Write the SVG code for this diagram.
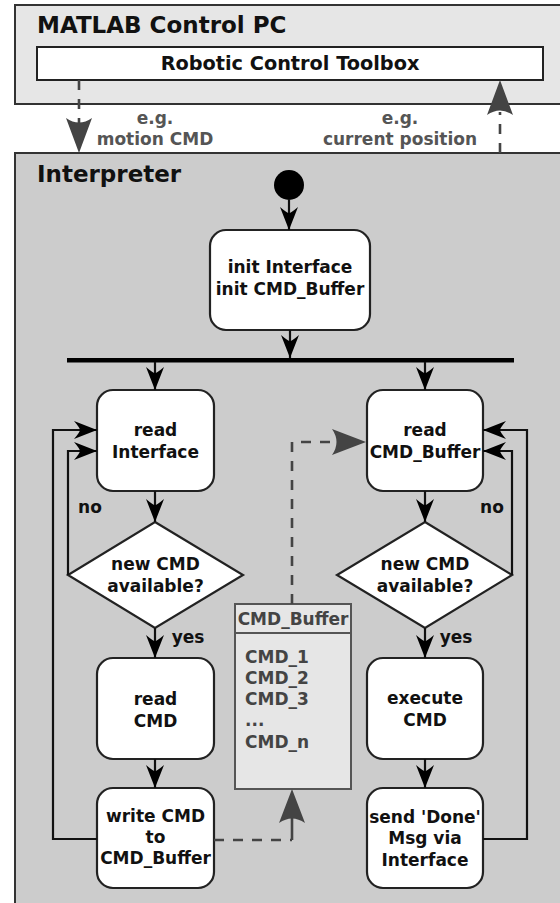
<svg xmlns="http://www.w3.org/2000/svg" width="560" height="903" viewBox="0 0 560 903">
  <style>
    text { font-family: "DejaVu Sans", "Liberation Sans", sans-serif; font-weight: bold; }
    .title { font-size: 23px; fill: #111; }
    .tool { font-size: 19.3px; fill: #111; text-anchor: middle; }
    .lbl { font-size: 17px; fill: #555; text-anchor: middle; }
    .node text, .ntxt { font-size: 17px; fill: #111; text-anchor: middle; }
    .act { fill: #fff; stroke: #222; stroke-width: 2.2; }
    .flow { fill: none; stroke: #111; stroke-width: 2.2; }
    .dash { fill: none; stroke: #444; stroke-width: 2.6; stroke-dasharray: 10 9; }
    .gl { fill: none; stroke: #444; stroke-width: 2.6; }
    .buf text { font-size: 17px; fill: #444; }
  </style>
  <defs>
    <marker id="ah" viewBox="-24 -10 26 20" refX="0" refY="0" markerWidth="26" markerHeight="20" markerUnits="userSpaceOnUse" orient="auto">
      <path d="M0,0 L-23,-9 Q-17,-2 -17,0 Q-17,2 -23,9 Z" fill="#000"/>
    </marker>
  </defs>

  <!-- host PC -->
  <g id="matlab">
    <rect x="15" y="5" width="560" height="99" fill="#e6e6e6" stroke="#333" stroke-width="2"/>
    <text class="title" x="37" y="33">MATLAB Control PC</text>
  </g>
  <g id="toolbox">
    <rect x="37" y="47" width="506" height="33" fill="#fff" stroke="#222" stroke-width="2"/>
    <text class="tool" x="290" y="70">Robotic Control Toolbox</text>
  </g>

  <!-- controller -->
  <g id="interpreter">
    <rect x="15" y="153" width="560" height="770" fill="#cccccc" stroke="#333" stroke-width="2"/>
    <text class="title" x="37" y="182">Interpreter</text>
  </g>

  <g id="labels">
    <text class="lbl" x="155" y="124">e.g.</text>
    <text class="lbl" x="155" y="145">motion CMD</text>
    <text class="lbl" x="400" y="124">e.g.</text>
    <text class="lbl" x="400" y="145">current position</text>
    <text class="ntxt" x="90" y="513">no</text>
    <text class="ntxt" x="492" y="513">no</text>
    <text class="ntxt" x="188" y="643">yes</text>
    <text class="ntxt" x="456" y="643">yes</text>
  </g>

  <g id="start">
    <circle cx="289" cy="185" r="15" fill="#000"/>
  </g>

  <g id="init" class="node">
    <rect class="act" x="210" y="230" width="160" height="100" rx="16"/>
    <text x="290" y="273">init Interface</text>
    <text x="290" y="295">init CMD_Buffer</text>
  </g>

  <g id="fork">
    <rect x="67" y="358" width="447" height="4.5" fill="#000"/>
  </g>

  <g id="readInterface" class="node">
    <rect class="act" x="97" y="390" width="117" height="101" rx="16"/>
    <text x="155.5" y="436">read</text>
    <text x="155.5" y="458">Interface</text>
  </g>
  <g id="checkInterface" class="node">
    <polygon class="act" points="155,522 243,575 155,628 68,575"/>
    <text x="155.5" y="570">new CMD</text>
    <text x="155.5" y="592">available?</text>
  </g>
  <g id="readCmd" class="node">
    <rect class="act" x="97" y="658" width="117" height="101" rx="16"/>
    <text x="155.5" y="705">read</text>
    <text x="155.5" y="727">CMD</text>
  </g>
  <g id="writeCmd" class="node">
    <rect class="act" x="97" y="788" width="117" height="100" rx="16"/>
    <text x="155.5" y="822">write CMD</text>
    <text x="155.5" y="843">to</text>
    <text x="155.5" y="864">CMD_Buffer</text>
  </g>

  <g id="readBuffer" class="node">
    <rect class="act" x="367" y="390" width="116" height="101" rx="16"/>
    <text x="425" y="436">read</text>
    <text x="425" y="458">CMD_Buffer</text>
  </g>
  <g id="checkBuffer" class="node">
    <polygon class="act" points="425,522 512,575 425,628 337,575"/>
    <text x="425" y="570">new CMD</text>
    <text x="425" y="592">available?</text>
  </g>
  <g id="execute" class="node">
    <rect class="act" x="367" y="658" width="116" height="101" rx="16"/>
    <text x="425" y="704">execute</text>
    <text x="425" y="726">CMD</text>
  </g>
  <g id="sendDone" class="node">
    <rect class="act" x="367" y="788" width="116" height="100" rx="16"/>
    <text x="425" y="823">send 'Done'</text>
    <text x="425" y="844">Msg via</text>
    <text x="425" y="866">Interface</text>
  </g>

  <g id="cmdBuffer" class="buf">
    <rect x="235" y="604" width="116" height="185" fill="#e6e6e6" stroke="#555" stroke-width="2"/>
    <line x1="235" y1="633" x2="351" y2="633" stroke="#555" stroke-width="2"/>
    <text x="293" y="625" text-anchor="middle">CMD_Buffer</text>
    <text x="245" y="663">CMD_1</text>
    <text x="245" y="684">CMD_2</text>
    <text x="245" y="705">CMD_3</text>
    <text x="245" y="726">...</text>
    <text x="245" y="748">CMD_n</text>
  </g>

  <g id="connectors">
    <!-- control flow -->
    <line class="flow" x1="289" y1="200" x2="289" y2="230" marker-end="url(#ah)"/>
    <line class="flow" x1="290" y1="330" x2="290" y2="358" marker-end="url(#ah)"/>
    <line class="flow" x1="155" y1="362" x2="155" y2="390" marker-end="url(#ah)"/>
    <line class="flow" x1="425" y1="362" x2="425" y2="390" marker-end="url(#ah)"/>
    <line class="flow" x1="155" y1="491" x2="155" y2="522" marker-end="url(#ah)"/>
    <line class="flow" x1="425" y1="491" x2="425" y2="522" marker-end="url(#ah)"/>
    <line class="flow" x1="155" y1="628" x2="155" y2="658" marker-end="url(#ah)"/>
    <line class="flow" x1="425" y1="628" x2="425" y2="658" marker-end="url(#ah)"/>
    <line class="flow" x1="155" y1="759" x2="155" y2="788" marker-end="url(#ah)"/>
    <line class="flow" x1="425" y1="759" x2="425" y2="788" marker-end="url(#ah)"/>
    <!-- "no" loops -->
    <polyline class="flow" points="68,575 68,451 97,451" marker-end="url(#ah)"/>
    <polyline class="flow" points="512,575 512,451 483,451" marker-end="url(#ah)"/>
    <!-- return loops -->
    <polyline class="flow" points="97,839 53,839 53,430 97,430" marker-end="url(#ah)"/>
    <polyline class="flow" points="483,839 527,839 527,430 483,430" marker-end="url(#ah)"/>

    <!-- data exchange -->
    <line class="dash" x1="79" y1="80" x2="79" y2="124"/>
    <path d="M79,153 L66,118 Q79,127 92,118 Z" fill="#444"/>
    <line class="dash" x1="500" y1="153" x2="500" y2="112"/>
    <path d="M500,80 L487,115 Q500,106 513,115 Z" fill="#444"/>

    <polyline class="dash" points="214,840 292,840"/>
    <line class="gl" x1="292" y1="840" x2="292" y2="818"/>
    <path d="M292,789 L279,823 Q292,814 305,823 Z" fill="#444"/>

    <polyline class="dash" points="292,604 292,442 340,442"/>
    <path d="M366,442 L332,429 Q341,442 332,455 Z" fill="#444"/>
  </g>
</svg>
